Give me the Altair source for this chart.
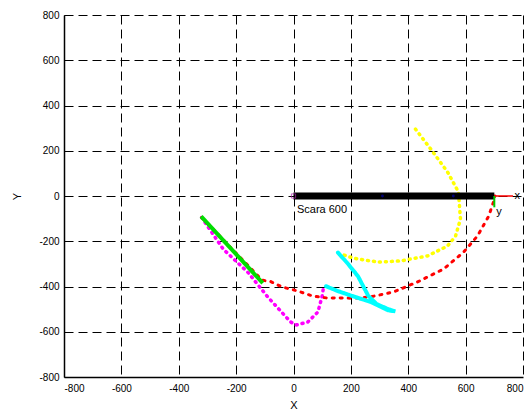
import altair as alt
import pandas as pd

# --- data ---
red_x = [-320, -270, -210, -160, -110, -80, -40, 15, 66, 118, 153, 210, 268, 349, 432, 523, 593, 641, 680, 697, 702]
red_y = [-95, -160, -240, -305, -372, -378, -402, -420, -442, -451, -450, -452, -446, -424, -380, -323, -248, -177, -90, -27, 0]

yellow_x = [425, 478, 537, 575, 582, 565, 537, 467, 373, 300, 268, 210, 164]
yellow_y = [296, 208, 106, 18, -102, -177, -221, -265, -287, -292, -287, -275, -256]

magenta_x = [-320, -245, -160, -90, -10, 10, 50, 85, 100, 105]
magenta_y = [-95, -235, -336, -446, -557, -570, -557, -513, -442, -400]

cyan_x = [155, 190, 225, 260, 290, 330, 355, 330, 270, 200, 150, 112]
cyan_y = [-250, -300, -355, -440, -478, -500, -510, -505, -469, -440, -418, -398]

green_x = [-322, -107]
green_y = [-90, -385]

arm_x = [0, 700]
arm_y = [0, 0]
joint_x = [310, 557]
joint_y = [0, 0]

xaxis_arrow_x = [700, 765]
xaxis_arrow_y = [0, 0]
yaxis_arrow_x = [700, 700]
yaxis_arrow_y = [0, -50]

labels_text = ["Scara 600", "x", "y"]
labels_x = [12, 770, 707]
labels_y = [-62, 0, -70]

tick_values = [-800, -600, -400, -200, 0, 200, 400, 600, 800]

X_DOM = [-800, 800]
Y_DOM = [-800, 800]


def df(xs, ys):
    d = pd.DataFrame({"x": xs, "y": ys})
    d["order"] = range(len(xs))
    return d


def axis(title, title_pad, label_pad):
    return alt.Axis(values=tick_values, title=title, grid=True, ticks=False,
                    labelExpr="'' + datum.value",
                    labelFont="Liberation Sans", labelFontSize=10, labelColor="black",
                    titleFont="Liberation Sans", titleFontSize=11, titleFontWeight="normal",
                    titleColor="black", titlePadding=title_pad, labelPadding=label_pad,
                    domainColor="black", domainWidth=1.5,
                    gridColor="black", gridDash=[9, 5], gridWidth=1, gridOpacity=1)


xenc = alt.X("x:Q", scale=alt.Scale(domain=X_DOM, nice=False, zero=False), axis=axis("X", 6, 6))
yenc = alt.Y("y:Q", scale=alt.Scale(domain=Y_DOM, nice=False, zero=False), axis=axis("Y", 16, 5))

base_x = alt.X("x:Q", scale=alt.Scale(domain=X_DOM, nice=False, zero=False))
base_y = alt.Y("y:Q", scale=alt.Scale(domain=Y_DOM, nice=False, zero=False))

grid_layer = alt.Chart(df([0], [0])).mark_point(opacity=0).encode(x=xenc, y=yenc)


def dotted(xs, ys, color, width, dash):
    return alt.Chart(df(xs, ys)).mark_line(color=color, strokeWidth=width, strokeDash=dash,
                                           strokeCap="round").encode(
        x=base_x, y=base_y, order="order:Q")


magenta = dotted(magenta_x, magenta_y, "#ff00ff", 3.5, [1, 5])
red = dotted(red_x, red_y, "#ff0000", 3, [2, 6])
green = alt.Chart(df(green_x, green_y)).mark_line(color="#00dd00", strokeWidth=4).encode(
    x=base_x, y=base_y, order="order:Q")
yellow = dotted(yellow_x, yellow_y, "#ffff00", 3.5, [1, 5])
cyan = alt.Chart(df(cyan_x, cyan_y)).mark_line(color="#00ffff", strokeWidth=4, strokeDash=[3, 1],
                                               strokeCap="round").encode(
    x=base_x, y=base_y, order="order:Q")

arm = alt.Chart(df(arm_x, arm_y)).mark_line(color="black", strokeWidth=7).encode(
    x=base_x, y=base_y, order="order:Q")
joints = alt.Chart(df(joint_x, joint_y)).mark_point(color="#0000aa", filled=True, size=8).encode(
    x=base_x, y=base_y)
base_pt = alt.Chart(df([0], [0])).mark_point(color="#aa22aa", shape="square", size=18,
                                              filled=False, strokeWidth=1).encode(x=base_x, y=base_y)
xarrow = alt.Chart(df(xaxis_arrow_x, xaxis_arrow_y)).mark_line(color="#ff0000", strokeWidth=1.5).encode(
    x=base_x, y=base_y, order="order:Q")
yarrow = alt.Chart(df(yaxis_arrow_x, yaxis_arrow_y)).mark_line(color="#00cc00", strokeWidth=2).encode(
    x=base_x, y=base_y, order="order:Q")

texts = alt.Chart(pd.DataFrame({"x": labels_x, "y": labels_y, "t": labels_text})).mark_text(
    align="left", baseline="middle", font="Liberation Sans", fontSize=11, color="black").encode(
    x=base_x, y=base_y, text="t:N")

chart = alt.layer(grid_layer, magenta, red, green, yellow, cyan, arm, joints, base_pt,
                  xarrow, yarrow, texts).properties(
    width=459, height=362,
    autosize=alt.AutoSizeParams(type="none"),
    padding={"left": 64, "top": 15, "right": 8, "bottom": 35},
    background="white",
).configure_view(stroke=None)

chart.save("out.html", embed_options={"renderer": "svg", "actions": False})
